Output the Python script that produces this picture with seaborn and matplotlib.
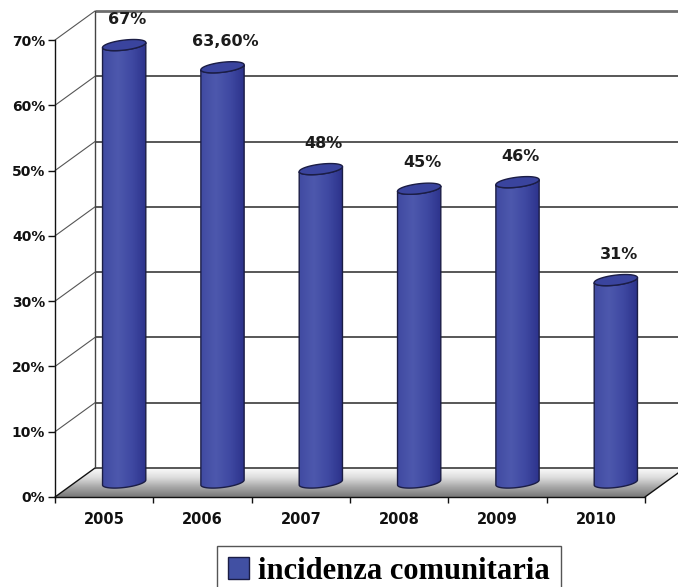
import numpy as np
import matplotlib
matplotlib.use("Agg")
import matplotlib.pyplot as plt
import seaborn as sns
from matplotlib.patches import Polygon, PathPatch, Patch
from matplotlib.path import Path
from matplotlib.colors import LinearSegmentedColormap
from matplotlib.ticker import PercentFormatter

# --- data -----------------------------------------------------------------
years = ["2005", "2006", "2007", "2008", "2009", "2010"]
values = [0.67, 0.636, 0.48, 0.45, 0.46, 0.31]
value_labels = ["67%", "63,60%", "48%", "45%", "46%", "31%"]
series_name = "incidenza comunitaria"
y_ticks = [0.0, 0.1, 0.2, 0.3, 0.4, 0.5, 0.6, 0.7]

# --- style ----------------------------------------------------------------
sns.set_theme(style="white")
plt.rcParams["font.family"] = ["DejaVu Sans"]

W, H, DPI = 678, 587, 100
BAR_BLUE = "#3d479f"
EDGE = "#1b1d45"

fig = plt.figure(figsize=(W / DPI, H / DPI), dpi=DPI, facecolor="white")
ax = fig.add_axes([55 / W, 90 / H, 590 / W, 457 / H])
ax.patch.set_alpha(0)

sns.barplot(x=years, y=values, ax=ax, width=0.44, color=BAR_BLUE,
            errorbar=None)
ax.set_xlim(-0.5, 5.5)
ax.set_ylim(0, 0.70)
ax.set_xlabel("")
ax.set_ylabel("")

# depth of the pseudo-3D box, expressed in data units (40 px right, 29 px up)
o = ax.transData.transform((0, 0))
bx, by = ax.transData.inverted().transform(o + np.array([40.0, 29.0]))
DX, DY = bx, by
ppy = ax.transData.transform((0, 1))[1] - o[1]
XMIN, XMAX = -0.5, 5.5

# floor with a grey gradient, dark at the front and white at the back
floor = Polygon([(XMIN, 0), (XMAX, 0), (XMAX + DX, DY), (XMIN + DX, DY)],
                closed=True, facecolor="none", edgecolor="none",
                clip_on=False, zorder=1)
ax.add_patch(floor)
floor_cmap = LinearSegmentedColormap.from_list(
    "floor", ["#787878", "#a6a6a6", "#dcdcdc", "#fbfbfb"])
fgrad = np.linspace(0, 1, 64).reshape(-1, 1)
fim = ax.imshow(fgrad, cmap=floor_cmap, extent=[XMIN, XMAX + DX, 0, DY],
                origin="lower", aspect="auto", zorder=1,
                interpolation="bicubic")
fim.set_clip_box(fig.bbox)
fim.set_clip_path(floor)

# back wall: gridlines, left edge, and the diagonal connectors
for v in y_ticks:
    top = v == y_ticks[-1]
    ax.plot([XMIN + DX, XMAX + DX + 0.2], [v + DY, v + DY],
            color="#6e6e6e" if top else "#2a2a2a",
            lw=2.0 if top else 1.1, clip_on=False, zorder=2,
            solid_capstyle="butt")
    ax.plot([XMIN, XMIN + DX], [v, v + DY],
            color="#111111" if v == 0 else "#555555",
            lw=1.0 if v == 0 else 0.8, clip_on=False, zorder=2)
ax.plot([XMIN + DX, XMIN + DX], [DY, y_ticks[-1] + DY], color="#444444",
        lw=1.0, clip_on=False, zorder=2)
ax.plot([XMAX, XMAX + DX], [0, DY], color="#111111", lw=1.0,
        clip_on=False, zorder=2)

# cylinders built from the seaborn bar geometry
body_cmap = LinearSegmentedColormap.from_list(
    "body", ["#414ba2", "#4d58ad", "#3f49a2", "#2c328b"])
b_ell = 5.0 / ppy          # half height of the elliptical caps
r_tilt = 2.5 / ppy         # slight tilt of the caps
theta_lo = np.linspace(np.pi, 2 * np.pi, 60)
theta_all = np.linspace(0, 2 * np.pi, 120)

for p, lab in zip(ax.patches[:len(years)], value_labels):
    x0, w, h = p.get_x(), p.get_width(), p.get_height()
    p.set_visible(False)
    cx = x0 + w / 2 + DX / 2
    base = DY / 2
    top = h + DY / 2
    a = w / 2

    def ell(yc, th):
        return np.column_stack([cx + a * np.cos(th),
                                yc + b_ell * np.sin(th) + r_tilt * np.cos(th)])

    bottom_pts = ell(base, theta_lo)
    top_pts = ell(top, theta_lo[::-1])
    verts = np.vstack([bottom_pts, top_pts, bottom_pts[:1]])
    codes = [Path.MOVETO] + [Path.LINETO] * (len(verts) - 2) + [Path.CLOSEPOLY]
    body = PathPatch(Path(verts, codes), facecolor="none", edgecolor=EDGE,
                     lw=1.0, zorder=4, clip_on=False)
    ax.add_patch(body)
    grad = np.linspace(0, 1, 64).reshape(1, -1)
    im = ax.imshow(grad, cmap=body_cmap,
                   extent=[cx - a, cx + a, base - b_ell - r_tilt,
                           top + b_ell + r_tilt],
                   origin="lower", aspect="auto", zorder=3,
                   interpolation="bicubic")
    im.set_clip_box(fig.bbox)
    im.set_clip_path(body)

    cap = Polygon(ell(top, theta_all), closed=True, facecolor="#3a449e",
                  edgecolor=EDGE, lw=1.0, zorder=5, clip_on=False)
    ax.add_patch(cap)

    ax.annotate(lab, xy=(cx, top), xytext=(3, 26), textcoords="offset pixels",
                ha="center", va="center", fontsize=11.5, fontweight="bold",
                color="#1c1c1c", zorder=6, annotation_clip=False)

ax.set_xlim(XMIN, XMAX)
ax.set_ylim(0, 0.70)

# axes: left and bottom spines only
for side in ("top", "right"):
    ax.spines[side].set_visible(False)
for side in ("left", "bottom"):
    ax.spines[side].set_color("#111111")
    ax.spines[side].set_linewidth(1.0)
    ax.spines[side].set_zorder(7)

ax.set_yticks(y_ticks)
ax.yaxis.set_major_formatter(PercentFormatter(xmax=1, decimals=0))
ax.tick_params(axis="y", which="major", direction="out", length=5, width=1,
               color="#111111", pad=2, labelsize=10, labelcolor="#111111",
               left=True)
for t in ax.get_yticklabels():
    t.set_fontweight("bold")

ax.set_xticks(range(len(years)))
ax.set_xticklabels(years, fontweight="bold")
ax.set_xticks(np.arange(XMIN, XMAX + 0.01, 1.0), minor=True)
ax.tick_params(axis="x", which="major", length=0, pad=11, labelsize=10.5,
               labelcolor="#111111")
ax.tick_params(axis="x", which="minor", direction="out", length=4.5, width=1,
               color="#111111", bottom=True)

# legend box at the bottom
handle = Patch(facecolor="#4150a3", edgecolor=EDGE, label=series_name)
leg = fig.legend(handles=[handle], loc="upper left",
                 bbox_to_anchor=(217 / W, 1 - 546 / H), frameon=True,
                 fancybox=False, edgecolor="#555555", framealpha=1,
                 prop={"family": "Liberation Serif", "weight": "bold",
                       "size": 22},
                 handlelength=0.7, handleheight=0.75, handletextpad=0.3,
                 borderpad=0.35, borderaxespad=0, labelcolor="#000000")
leg.get_frame().set_linewidth(1.0)

fig.savefig("out.png", dpi=DPI, facecolor="white")
